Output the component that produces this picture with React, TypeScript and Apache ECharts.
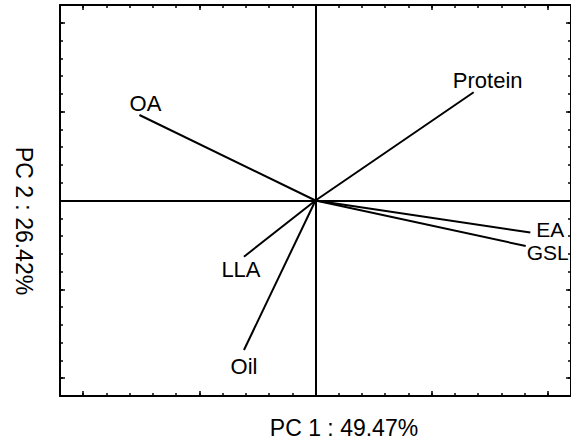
import React, { useEffect, useRef } from "react";
import * as echarts from "echarts";

// Loadings (PC1, PC2) in axis units
const variables = ["OA", "Protein", "EA", "GSL", "LLA", "Oil"];
const pc1 = [-7.58, 6.81, 9.25, 9.05, -3.08, -3.08];
const pc2 = [4.81, 6.09, -1.8, -2.56, -3.16, -8.41];
const axisMin = -11;
const axisMax = 11;
const majorTicks = [-10, -5, 5, 10];
const xTitle = "PC 1 : 49.47%";
const yTitle = "PC 2 : 26.42%";

// label placement (style only)
const labelStyle: Record<string, { offset: [number, number]; align: string; size: number }> = {
  OA: { offset: [6, -12], align: "center", size: 22 },
  Protein: { offset: [14, -12], align: "center", size: 22 },
  EA: { offset: [6, -2.5], align: "left", size: 21 },
  GSL: { offset: [1, 6.5], align: "left", size: 21 },
  LLA: { offset: [-3, 13], align: "center", size: 22 },
  Oil: { offset: [0, 17], align: "center", size: 22 },
};

const FONT = "'Liberation Sans', Arial, Helvetica, sans-serif";

export default function App() {
  const ref = useRef<HTMLDivElement>(null);
  useEffect(() => {
    if (!ref.current) return;
    const chart = echarts.init(ref.current, null, { renderer: "svg" });
    const axisCommon = {
      type: "value" as const,
      min: axisMin,
      max: axisMax,
      interval: 1,
      axisLine: { show: true, onZero: false, lineStyle: { color: "#000", width: 2 } },
      axisTick: { show: true, inside: true, length: 3, lineStyle: { color: "#000", width: 1.5 } },
      axisLabel: { show: false },
      splitLine: { show: false },
    };
    const majorCommon = {
      ...axisCommon,
      axisLine: { show: false, onZero: false },
      axisTick: {
        show: true,
        inside: true,
        length: 5,
        customValues: majorTicks,
        lineStyle: { color: "#000", width: 1.5 },
      },
    };
    const series: any[] = variables.map((name, i) => {
      const ls = labelStyle[name];
      return {
        type: "line",
        name,
        symbol: "circle",
        symbolSize: 1,
        showSymbol: true,
        itemStyle: { color: "rgba(0,0,0,0)" },
        lineStyle: { color: "#000", width: 2 },
        data: [
          { value: [0, 0], label: { show: false } },
          {
            value: [pc1[i], pc2[i]],
            label: {
              show: true,
              formatter: name,
              position: "inside",
              offset: ls.offset,
              align: ls.align,
              verticalAlign: "middle",
              color: "#000",
              fontSize: ls.size,
              lineHeight: 17,
              fontFamily: FONT,
            },
          },
        ],
      };
    });
    series.push({
      type: "line",
      data: [],
      markLine: {
        silent: true,
        symbol: "none",
        label: { show: false },
        lineStyle: { color: "#000", width: 2, type: "solid" },
        data: [{ xAxis: 0 }, { yAxis: 0 }],
      },
    });
    chart.setOption({
      animation: false,
      backgroundColor: "#fff",
      grid: { left: 60, top: 5, width: 514, height: 391 },
      xAxis: [
        { ...axisCommon, position: "bottom" },
        { ...axisCommon, position: "top" },
        { ...majorCommon, position: "bottom" },
        { ...majorCommon, position: "top" },
      ],
      yAxis: [
        { ...axisCommon, position: "left" },
        { ...axisCommon, position: "right" },
        { ...majorCommon, position: "left" },
        { ...majorCommon, position: "right" },
      ],
      graphic: [
        {
          type: "text",
          x: 344,
          y: 428,
          style: {
            text: xTitle,
            fill: "#000",
            font: `23px ${FONT}`,
            align: "center",
            verticalAlign: "middle",
          },
        },
        {
          type: "text",
          x: 24,
          y: 221,
          rotation: -Math.PI / 2,
          style: {
            text: yTitle,
            fill: "#000",
            font: `23px ${FONT}`,
            align: "center",
            verticalAlign: "middle",
          },
        },
      ],
      series,
    });
    return () => chart.dispose();
  }, []);
  return (
    <div
      ref={ref}
      style={{ position: "fixed", left: 0, top: 0, width: 571, height: 444 }}
    />
  );
}
